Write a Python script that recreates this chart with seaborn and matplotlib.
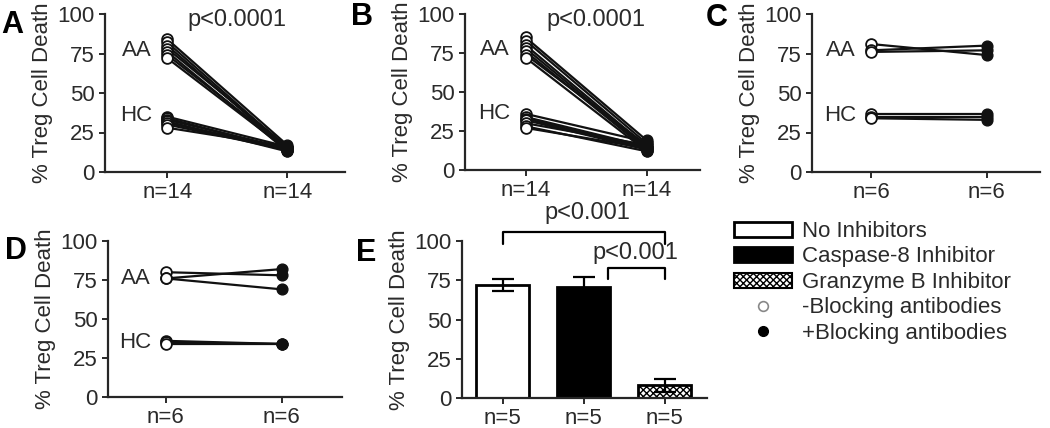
import numpy as np
import pandas as pd
import seaborn as sns
import matplotlib.pyplot as plt
from matplotlib.patches import Patch
from matplotlib.lines import Line2D

# paired data: value without (-) and with (+) blocking antibodies
# panel A
a_aa_pre = [84, 82, 80, 78, 76, 74, 72]
a_aa_post = [17, 15, 14, 16, 13, 15, 14]
a_hc_pre = [35, 34, 33, 32, 31, 30, 28]
a_hc_post = [16, 14, 15, 13, 15, 14, 16]
# panel B
b_aa_pre = [85, 83, 80, 78, 76, 74, 72]
b_aa_post = [19, 17, 15, 14, 13, 16, 12]
b_hc_pre = [36, 34, 33, 32, 30, 28, 27]
b_hc_post = [18, 15, 14, 13, 16, 12, 14]
# panel C
c_aa_pre = [81, 77, 76]
c_aa_post = [74, 80, 77]
c_hc_pre = [37, 35, 34]
c_hc_post = [37, 35, 33]
# panel D
d_aa_pre = [80, 76, 76]
d_aa_post = [78, 82, 69]
d_hc_pre = [36, 35, 34]
d_hc_post = [34, 34, 34]

# panel E
inhibitors = ['No Inhibitors', 'Caspase-8 Inhibitor', 'Granzyme B Inhibitor']
e_mean = [72, 71, 8]
e_err = [4, 6, 4]
e_n = ['n=5', 'n=5', 'n=5']

sns.set_style('ticks')
plt.rcParams['font.family'] = ['Liberation Sans', 'DejaVu Sans']
plt.rcParams['font.size'] = 16
plt.rcParams['text.color'] = '#2a2a2a'
plt.rcParams['axes.labelcolor'] = '#2a2a2a'
plt.rcParams['xtick.color'] = '#2a2a2a'
plt.rcParams['ytick.color'] = '#2a2a2a'
plt.rcParams['axes.linewidth'] = 1.6
plt.rcParams['xtick.major.width'] = 1.4
plt.rcParams['ytick.major.width'] = 1.4
plt.rcParams['xtick.major.size'] = 4
plt.rcParams['ytick.major.size'] = 4
plt.rcParams['hatch.linewidth'] = 1.0

W, H = 1050, 428
fig = plt.figure(figsize=(W / 100, H / 100), dpi=100)


def px_axes(x0, x1, ytop, ybot):
    return fig.add_axes([x0 / W, 1 - ybot / H, (x1 - x0) / W, (ybot - ytop) / H])


def paired_panel(ax, aa_pre, aa_post, hc_pre, hc_post, n_label, xlim, ptext=None, aa_y=77, hc_y=36):
    pre = aa_pre + hc_pre
    post = aa_post + hc_post
    rows = []
    for i in range(len(pre)):
        rows.append({'subject': i, 'pos': 0, 'value': pre[i]})
        rows.append({'subject': i, 'pos': 1, 'value': post[i]})
    df = pd.DataFrame(rows)
    sns.lineplot(data=df, x='pos', y='value', units='subject', estimator=None,
                 color='#111111', lw=1.6, ax=ax)
    sns.scatterplot(data=df[df['pos'] == 0], x='pos', y='value', ax=ax, s=60,
                    facecolor='white', edgecolor='#111111', linewidth=1.3, zorder=3)
    sns.scatterplot(data=df[df['pos'] == 1], x='pos', y='value', ax=ax, s=60,
                    color='#111111', edgecolor='#111111', linewidth=1.0, zorder=3)
    ax.set_xlim(*xlim)
    ax.set_ylim(0, 100)
    ax.set_yticks([0, 25, 50, 75, 100])
    ax.set_xticks([0, 1])
    ax.set_xticklabels([n_label, n_label])
    ax.set_xlabel('')
    ax.set_ylabel('% Treg Cell Death', labelpad=3)
    ax.text(-0.13, aa_y, 'AA', ha='right', va='center')
    ax.text(-0.13, hc_y, 'HC', ha='right', va='center')
    if ptext:
        ax.text(0.58, 96, ptext, ha='center', va='center', fontsize=17, clip_on=False)
    sns.despine(ax=ax)


axA = px_axes(105, 345, 14, 172)
paired_panel(axA, a_aa_pre, a_aa_post, a_hc_pre, a_hc_post, 'n=14', (-0.52, 1.48), 'p<0.0001')
axB = px_axes(465, 700, 14, 170)
paired_panel(axB, b_aa_pre, b_aa_post, b_hc_pre, b_hc_post, 'n=14', (-0.5, 1.44), 'p<0.0001')
axC = px_axes(812, 1040, 14, 172)
paired_panel(axC, c_aa_pre, c_aa_post, c_hc_pre, c_hc_post, 'n=6', (-0.51, 1.46))
axD = px_axes(108, 342, 241, 397)
paired_panel(axD, d_aa_pre, d_aa_post, d_hc_pre, d_hc_post, 'n=6', (-0.5, 1.52), aa_y=76, hc_y=35)

# panel E bars
axE = px_axes(462, 707, 241, 398)
sns.barplot(x=inhibitors, y=e_mean, hue=inhibitors, palette=['white', 'black', 'white'],
            width=0.65, edgecolor='black', linewidth=2, legend=False, ax=axE)
axE.patches[2].set_hatch('xxxxx')
axE.errorbar(range(3), e_mean, yerr=e_err, fmt='none', ecolor='black',
             elinewidth=1.6, capsize=8, capthick=1.6, zorder=5)
axE.set_xlim(-0.5, 2.52)
axE.set_ylim(0, 100)
axE.set_yticks([0, 25, 50, 75, 100])
axE.set_xticks(range(3))
axE.set_xticklabels(e_n)
axE.set_ylabel('% Treg Cell Death', labelpad=3)
sns.despine(ax=axE)
# significance brackets
axE.plot([0, 0, 2, 2], [98, 106, 106, 98], color='black', lw=1.6, clip_on=False)
axE.text(1.05, 118, 'p<0.001', ha='center', va='center', fontsize=17, clip_on=False)
axE.plot([1.3, 1.3, 2, 2], [76, 83, 83, 76], color='black', lw=1.6, clip_on=False)
axE.text(1.64, 92.5, 'p<0.001', ha='center', va='center', fontsize=17, clip_on=False)

# panel letters
for letter, x, y in [('A', 12, 25), ('B', 362, 17), ('C', 717, 18), ('D', 16, 251), ('E', 366, 253)]:
    fig.text(x / W, 1 - y / H, letter, fontsize=22, fontweight='bold', color='black',
             ha='center', va='center')

handles = [
    Patch(facecolor='white', edgecolor='black', linewidth=2),
    Patch(facecolor='black', edgecolor='black', linewidth=2),
    Patch(facecolor='white', edgecolor='black', linewidth=1.5, hatch='xxxxx'),
    Line2D([], [], marker='o', ls='none', markersize=7, markerfacecolor='white',
           markeredgecolor='#888888', markeredgewidth=1.2),
    Line2D([], [], marker='o', ls='none', markersize=7, markerfacecolor='black',
           markeredgecolor='black'),
]
labels = ['No Inhibitors', 'Caspase-8 Inhibitor', 'Granzyme B Inhibitor',
          '-Blocking antibodies', '+Blocking antibodies']
fig.legend(handles, labels, loc='upper left', bbox_to_anchor=(734 / W, 1 - 221 / H),
           frameon=False, fontsize=16, handlelength=2.6, handleheight=0.65,
           handletextpad=0.45, labelspacing=0.2, borderaxespad=0, borderpad=0)

fig.savefig('out.png', dpi=100)
